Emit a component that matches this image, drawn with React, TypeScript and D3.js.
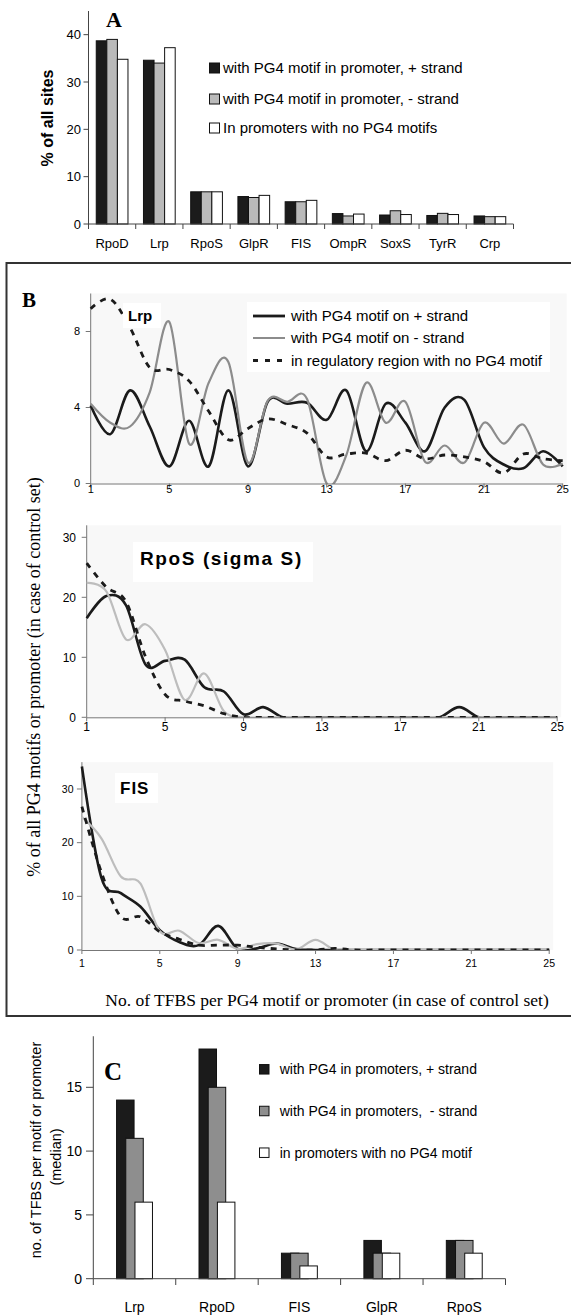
import React from "react";
import * as d3 from "d3";

const SANS = "'Liberation Sans', Arial, sans-serif";
const SERIF = "'Liberation Serif', 'Times New Roman', serif";

// ---- panel A: % of all sites
const catsA = ["RpoD", "Lrp", "RpoS", "GlpR", "FIS", "OmpR", "SoxS", "TyrR", "Crp"];
const aPlus = [38.7, 34.6, 6.8, 5.8, 4.7, 2.2, 1.9, 1.8, 1.7];
const aMinus = [39.0, 34.0, 6.8, 5.6, 4.7, 1.7, 2.8, 2.25, 1.55];
const aNone = [34.8, 37.25, 6.8, 6.05, 5.0, 2.1, 2.0, 2.0, 1.55];
const ticksA = [0, 10, 20, 30, 40];
const legendA = [
  "with PG4 motif in promoter, + strand",
  "with PG4 motif in promoter, - strand",
  "In promoters with no PG4 motifs",
];

// ---- panel B: distributions of TFBS counts
const tfbs = [1, 2, 3, 4, 5, 6, 7, 8, 9, 10, 11, 12, 13, 14, 15, 16, 17, 18, 19, 20, 21, 22, 23, 24, 25];
const xTicksB = [1, 5, 9, 13, 17, 21, 25];

const lrpPlus = [4.1, 2.6, 4.9, 3.0, 0.9, 3.3, 0.9, 4.9, 0.9, 4.3, 4.2, 4.25, 3.35, 4.9, 1.7, 4.2, 3.2, 1.7, 4.0, 4.4, 1.9, 1.0, 0.8, 1.7, 0.9];
const lrpMinus = [4.2, 3.2, 3.0, 4.8, 8.5, 2.1, 5.3, 6.4, 1.1, 4.35, 4.3, 4.45, 0.0, 1.5, 5.3, 3.2, 4.3, 1.15, 2.0, 1.1, 3.2, 2.1, 3.1, 1.0, 1.05];
const lrpNone = [9.2, 9.7, 8.2, 6.1, 6.0, 5.4, 3.8, 2.3, 2.9, 3.4, 3.1, 2.65, 1.4, 1.55, 1.6, 1.2, 1.75, 1.3, 1.5, 1.4, 1.15, 0.55, 1.55, 1.3, 1.2];

const rposPlus = [16.5, 20.2, 18.7, 8.8, 9.4, 9.6, 5.0, 4.3, 0.5, 1.7, 0, 0, 0, 0, 0, 0, 0, 0, 0, 1.7, 0, 0, 0, 0, 0];
const rposMinus = [22.4, 21.0, 13.0, 15.5, 11.2, 2.9, 7.3, 1.0, 0, 0, 0, 0, 0, 0, 0, 0, 0, 0, 0, 0, 0, 0, 0, 0, 0];
const rposNone = [25.7, 21.7, 19.3, 10.1, 3.8, 2.7, 1.9, 0.6, 0, 0, 0, 0, 0, 0, 0, 0, 0, 0, 0, 0, 0, 0, 0, 0, 0];

const fisPlus = [34.2, 13.5, 10.6, 8.1, 3.7, 1.5, 0.9, 4.5, 0.2, 0.3, 1.2, 0.2, 0, 0, 0, 0, 0, 0, 0, 0, 0, 0, 0, 0, 0];
const fisMinus = [24.8, 20.8, 13.7, 12.4, 3.5, 3.6, 1.3, 1.9, 0.2, 1.1, 1.2, 0.1, 1.9, 0, 0, 0, 0, 0, 0, 0, 0, 0, 0, 0, 0];
const fisNone = [26.7, 14.5, 6.2, 6.2, 3.4, 2.0, 0.9, 0.9, 0.9, 0.5, 0.2, 0, 0, 0.3, 0, 0, 0, 0, 0, 0, 0, 0, 0, 0, 0];

const legendB = [
  "with PG4 motif on + strand",
  "with PG4 motif on - strand",
  "in regulatory region with no PG4 motif",
];

// ---- panel C: median TFBS per motif
const catsC = ["Lrp", "RpoD", "FIS", "GlpR", "RpoS"];
const cPlus = [14, 18, 2, 3, 3];
const cMinus = [11, 15, 2, 2, 3];
const cNone = [6, 6, 1, 2, 2];
const ticksC = [0, 5, 10, 15];
const legendC = [
  "with PG4 in promoters, + strand",
  "with PG4 in promoters,  - strand",
  "in promoters with no PG4 motif",
];

const BLACK = "#1b1b1b";

function PanelA() {
  const x = d3.scaleBand<string>().domain(catsA).range([88.5, 513.5]);
  const y = d3.scaleLinear().domain([0, 45]).range([224, 11]);
  const inner = d3.scaleBand<string>().domain(["p", "m", "n"]).range([7.75, x.bandwidth() - 7.75]);
  const series = [
    { key: "p", vals: aPlus, fill: BLACK },
    { key: "m", vals: aMinus, fill: "#bababa" },
    { key: "n", vals: aNone, fill: "#ffffff" },
  ];
  return (
    <g>
      <text x={106} y={27} fontFamily={SERIF} fontWeight="bold" fontSize={22}>A</text>
      <text transform={`translate(53,118) rotate(-90)`} textAnchor="middle" fontFamily={SANS} fontWeight="bold" fontSize={16}>% of all sites</text>
      {series.map((s) =>
        s.vals.map((v, i) => (
          <rect key={s.key + i} x={x(catsA[i])! + inner(s.key)!} y={y(v)} width={inner.bandwidth()} height={y(0) - y(v)}
            fill={s.fill} stroke="#111" strokeWidth={1} />
        ))
      )}
      <line x1={88.5} x2={88.5} y1={y.range()[1]} y2={224} stroke="#444" />
      <line x1={88.5} x2={513.5} y1={224} y2={224} stroke="#444" />
      {ticksA.map((t) => (
        <g key={t}>
          <line x1={83.5} x2={88.5} y1={y(t)} y2={y(t)} stroke="#444" />
          <text x={81} y={y(t) + 4.5} textAnchor="end" fontFamily={SANS} fontSize={13}>{t}</text>
        </g>
      ))}
      {[...catsA, ""].map((c, i) => {
        const xx = 88.5 + i * x.bandwidth();
        return <line key={"t" + i} x1={xx} x2={xx} y1={224} y2={229} stroke="#444" />;
      })}
      {catsA.map((c) => (
        <text key={c} x={x(c)! + x.bandwidth() / 2} y={248} textAnchor="middle" fontFamily={SANS} fontSize={13}>{c}</text>
      ))}
      {legendA.map((l, i) => {
        const yy = [68, 99, 128][i];
        return (
          <g key={l}>
            <rect x={209.5} y={yy - 5} width={10} height={10} fill={series[i].fill} stroke="#111" />
            <text x={223} y={yy + 5} fontFamily={SANS} fontSize={15}>{l}</text>
          </g>
        );
      })}
    </g>
  );
}

type LineCfg = {
  id: string;
  x0: number; x1: number; yBase: number; pxPerUnit: number; yMax: number;
  yTicks: number[]; plus: number[]; minus: number[]; none: number[];
  grey: string; tickFont: number; labelRight: number; xLabelY: number;
};

function LinePanel({ c }: { c: LineCfg }) {
  const x = d3.scaleLinear().domain([1, 25]).range([c.x0, c.x1]);
  const y = d3.scaleLinear().domain([0, c.yMax]).range([c.yBase, c.yBase - c.yMax * c.pxPerUnit]);
  const line = d3.line<number>().x((d, i) => x(tfbs[i])).y((d) => y(d)).curve(d3.curveCatmullRom.alpha(0));
  const top = y(c.yMax);
  return (
    <g>
      <clipPath id={c.id}>
        <rect x={c.x0 - 2} y={top - 6} width={c.x1 - c.x0 + 8} height={c.yBase - top + 6.5} />
      </clipPath>
      <rect x={c.x0} y={top} width={c.x1 - c.x0 + 4} height={c.yBase - top} fill="#f8f8f8" />
      <line x1={c.x0} x2={c.x0} y1={top} y2={c.yBase} stroke="#777" />
      {c.yTicks.map((t) => (
        <g key={t}>
          <line x1={c.x0 - 5} x2={c.x0} y1={y(t)} y2={y(t)} stroke="#777" />
          <text x={c.labelRight} y={y(t) + c.tickFont * 0.36} textAnchor="end" fontFamily={SANS} fontSize={c.tickFont}>{t}</text>
        </g>
      ))}
      {xTicksB.map((t) => (
        <g key={t}>
          <line x1={x(t)} x2={x(t)} y1={c.yBase} y2={c.yBase + 4} stroke="#777" />
          <text x={x(t)} y={c.xLabelY} textAnchor="middle" fontFamily={SANS} fontSize={c.tickFont}>{t}</text>
        </g>
      ))}
      <g clipPath={`url(#${c.id})`} fill="none">
        <path d={line(c.plus)!} stroke={BLACK} strokeWidth={2.6} />
        <path d={line(c.minus)!} stroke={c.grey} strokeWidth={2.2} />
        <path d={line(c.none)!} stroke={BLACK} strokeWidth={2.8} strokeDasharray="6,6" />
      </g>
      <line x1={c.x0} x2={c.x1} y1={c.yBase + 0.5} y2={c.yBase + 0.5} stroke="#777" />
    </g>
  );
}

function PanelB() {
  const lrp: LineCfg = {
    id: "clipLrp", x0: 90.7, x1: 562.7, yBase: 483.5, pxPerUnit: 19, yMax: 10, yTicks: [0, 4, 8],
    plus: lrpPlus, minus: lrpMinus, none: lrpNone, grey: "#8c8c8c", tickFont: 11, labelRight: 80, xLabelY: 493,
  };
  const rpos: LineCfg = {
    id: "clipRpoS", x0: 86.7, x1: 557.2, yBase: 717.3, pxPerUnit: 6, yMax: 32, yTicks: [0, 10, 20, 30],
    plus: rposPlus, minus: rposMinus, none: rposNone, grey: "#bdbdbd", tickFont: 12, labelRight: 76, xLabelY: 731,
  };
  const fis: LineCfg = {
    id: "clipFIS", x0: 81.9, x1: 549.2, yBase: 950, pxPerUnit: 5.367, yMax: 35, yTicks: [0, 10, 20, 30],
    plus: fisPlus, minus: fisMinus, none: fisNone, grey: "#bdbdbd", tickFont: 10.5, labelRight: 73.5, xLabelY: 967,
  };
  return (
    <g>
      <rect x={6.5} y={263} width={580} height={753} fill="#fff" stroke="#333" strokeWidth={2} />
      <text x={22} y={307} fontFamily={SERIF} fontWeight="bold" fontSize={21}>B</text>
      <LinePanel c={lrp} />
      <LinePanel c={rpos} />
      <LinePanel c={fis} />
      <rect x={123} y={303} width={38} height={25} fill="#fff" />
      <text x={128} y={321} fontFamily={SANS} fontWeight="bold" fontSize={15}>Lrp</text>
      <rect x={133} y={542} width={180} height={40} fill="#fff" />
      <text x={140} y={565} fontFamily={SANS} fontWeight="bold" fontSize={19} letterSpacing={1.6}>RpoS (sigma S)</text>
      <rect x={115} y={773} width={43} height={30} fill="#fff" />
      <text x={120} y={794} fontFamily={SANS} fontWeight="bold" fontSize={17} letterSpacing={1}>FIS</text>
      <rect x={247} y={302} width={303} height={70} fill="#fff" />
      {legendB.map((l, i) => {
        const yy = [316, 338, 360.5][i];
        return (
          <g key={l}>
            <line x1={253} x2={285} y1={yy} y2={yy} stroke={i === 1 ? "#8c8c8c" : BLACK}
              strokeWidth={i === 1 ? 2 : 2.8} strokeDasharray={i === 2 ? "5,7" : undefined} />
            <text x={291} y={yy + 5} fontFamily={SANS} fontSize={15}>{l}</text>
          </g>
        );
      })}
      <text transform={`translate(40,677) rotate(-90)`} textAnchor="middle" fontFamily={SERIF} fontSize={18}>
        % of all PG4 motifs or promoter (in case of control set)
      </text>
      <text x={327} y={1006} textAnchor="middle" fontFamily={SERIF} fontSize={17.5}>
        No. of TFBS per PG4 motif or promoter (in case of control set)
      </text>
    </g>
  );
}

function PanelC() {
  const x = d3.scaleBand<string>().domain(catsC).range([93.3, 505.5]);
  const y = d3.scaleLinear().domain([0, 19]).range([1278.7, 1278.7 - 19 * 12.76]);
  const barW = 17.5, step = 9.2;
  const off = (x.bandwidth() - (2 * step + barW)) / 2;
  const series = [
    { vals: cPlus, fill: BLACK },
    { vals: cMinus, fill: "#8e8e8e" },
    { vals: cNone, fill: "#ffffff" },
  ];
  return (
    <g>
      <text x={104} y={1080} fontFamily={SERIF} fontWeight="bold" fontSize={25}>C</text>
      <text transform={`translate(41,1150) rotate(-90)`} textAnchor="middle" fontFamily={SANS} fontSize={14.5}>
        no. of TFBS per motif or promoter
      </text>
      <text transform={`translate(61,1157) rotate(-90)`} textAnchor="middle" fontFamily={SANS} fontSize={14.5}>(median)</text>
      {series.map((s, si) =>
        s.vals.map((v, i) => (
          <rect key={si + "-" + i} x={x(catsC[i])! + off + si * step} y={y(v)} width={barW} height={y(0) - y(v)}
            fill={s.fill} stroke="#111" strokeWidth={1} />
        ))
      )}
      <line x1={93.3} x2={93.3} y1={y.range()[1]} y2={1278.7} stroke="#444" />
      <line x1={93.3} x2={505.5} y1={1278.7} y2={1278.7} stroke="#444" />
      {ticksC.map((t) => (
        <g key={t}>
          <line x1={86} x2={93.3} y1={y(t)} y2={y(t)} stroke="#444" />
          <text x={82} y={y(t) + 5} textAnchor="end" fontFamily={SANS} fontSize={14}>{t}</text>
        </g>
      ))}
      {[...catsC, ""].map((c, i) => {
        const xx = 93.3 + i * x.bandwidth();
        return <line key={"t" + i} x1={xx} x2={xx} y1={1278.7} y2={1285} stroke="#444" />;
      })}
      {catsC.map((c) => (
        <text key={c} x={x(c)! + x.bandwidth() / 2} y={1312} textAnchor="middle" fontFamily={SANS} fontSize={14}>{c}</text>
      ))}
      {legendC.map((l, i) => {
        const yy = [1069.3, 1111, 1152.7][i];
        return (
          <g key={l}>
            <rect x={259.5} y={yy - 4.75} width={9.5} height={9.5} fill={series[i].fill} stroke="#111" />
            <text x={279.7} y={yy + 5} fontFamily={SANS} fontSize={14} style={{ whiteSpace: "pre" }}>{l}</text>
          </g>
        );
      })}
    </g>
  );
}

export default function App() {
  return (
    <div style={{ position: "absolute", left: 0, top: 0 }}>
      <svg width={571} height={1315} style={{ display: "block" }}>
        <rect width={571} height={1315} fill="#fff" />
        <PanelA />
        <PanelB />
        <PanelC />
      </svg>
    </div>
  );
}
